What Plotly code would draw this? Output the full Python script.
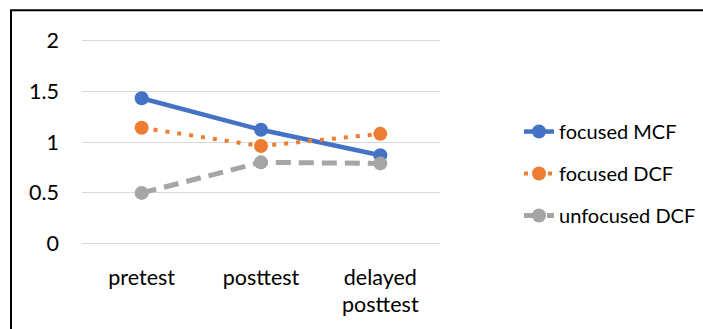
import plotly.graph_objects as go

categories = ["pretest", "posttest", "delayed<br>posttest"]
focused_mcf = [1.43, 1.12, 0.87]
focused_dcf = [1.14, 0.96, 1.08]
unfocused_dcf = [0.50, 0.80, 0.79]
y_ticks = [0, 0.5, 1, 1.5, 2]
y_tick_text = ["0", "0.5", "1", "1.5", "2"]

W, H = 703, 329
L, R = 82, 440          # plot area px
TOP_PX, BOT_PX = 29.8, 254.2  # for range [-0.1, 2.1]

def px_x(p):
    return (p - L) / (R - L)

def px_y(p):
    return (BOT_PX - p) / (BOT_PX - TOP_PX)

FONT = "Lato, Carlito, Calibri, sans-serif"

fig = go.Figure()
fig.add_trace(go.Scatter(
    x=categories, y=focused_mcf, name="focused MCF", mode="lines+markers",
    line=dict(color="#4472C4", width=4.5), marker=dict(size=14, color="#4472C4"),
    legendgroup="a"))
fig.add_trace(go.Scatter(
    x=categories, y=focused_dcf, name="focused DCF", mode="lines+markers",
    line=dict(color="#ED7D31", width=4, dash="4px,8px"), marker=dict(size=14, color="#ED7D31"),
    legendgroup="b"))
fig.add_trace(go.Scatter(
    x=categories, y=unfocused_dcf, name="unfocused DCF", mode="lines+markers",
    line=dict(color="#A5A5A5", width=5, dash="15px,8px"), marker=dict(size=14, color="#A5A5A5"),
    legendgroup="c"))

fig.update_layout(
    template="none",
    width=W, height=H,
    margin=dict(l=L, r=W - R, t=TOP_PX, b=H - BOT_PX, pad=0, autoexpand=False),
    paper_bgcolor="white", plot_bgcolor="white",
    font=dict(family=FONT, size=20, color="#000000"),
    showlegend=True,
    legend=dict(x=px_x(519), y=px_y(112), xanchor="left", yanchor="top",
                tracegroupgap=13, font=dict(size=20), bgcolor="rgba(0,0,0,0)",
                borderwidth=0),
    xaxis=dict(type="category", range=[-0.5, 2.5], showgrid=False, showline=False,
               zeroline=False, ticks="", ticklabelstandoff=8, automargin=False,
               tickfont=dict(size=21.5)),
    yaxis=dict(range=[-0.1, 2.1], tickvals=y_ticks, ticktext=y_tick_text,
               showgrid=True, gridcolor="#D9D9D9", gridwidth=1.3, zeroline=False,
               showline=False, ticks="", ticklabelstandoff=22, automargin=False,
               tickfont=dict(size=21.5)),
    shapes=[dict(type="rect", xref="paper", yref="paper",
                 x0=px_x(11), x1=px_x(720), y0=px_y(345), y1=px_y(10),
                 line=dict(color="#000000", width=2), fillcolor="rgba(0,0,0,0)", layer="below")],
)

fig.write_html("out.html", config={"displayModeBar": False},
               post_script="document.body.style.margin='0';")
